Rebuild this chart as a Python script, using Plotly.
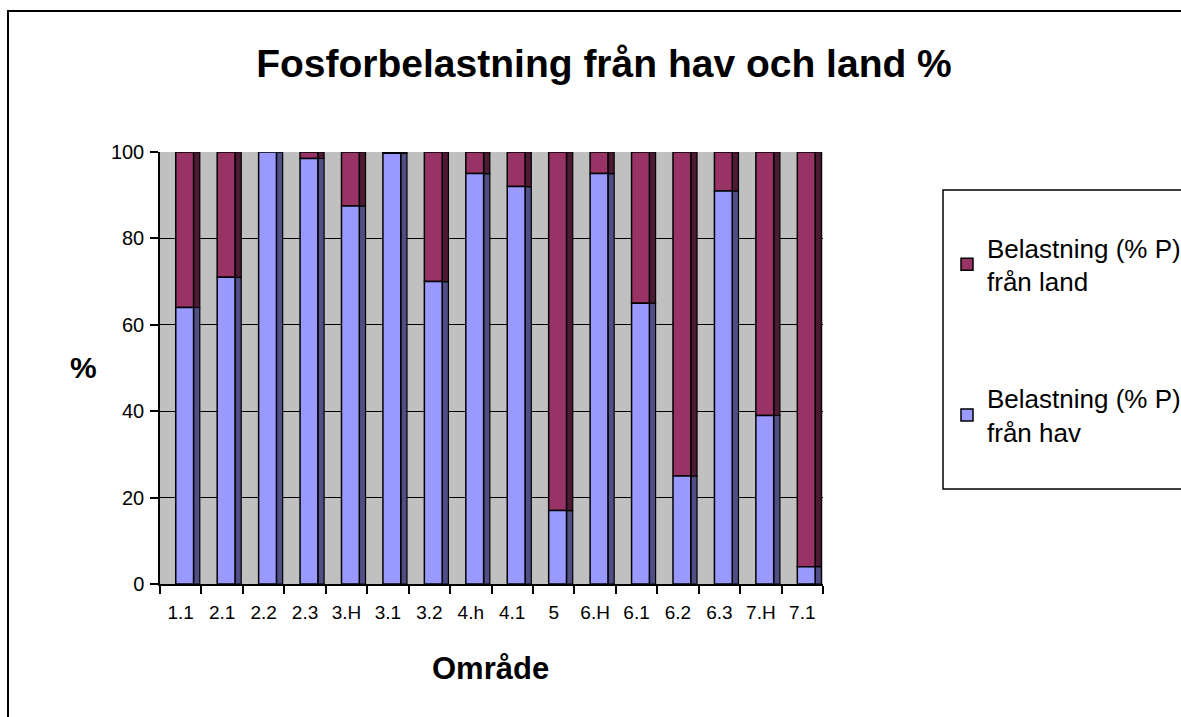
import plotly.graph_objects as go

categories = ["1.1", "2.1", "2.2", "2.3", "3.H", "3.1", "3.2", "4.h", "4.1", "5",
              "6.H", "6.1", "6.2", "6.3", "7.H", "7.1"]
fran_hav = [64, 71, 100, 98.5, 87.5, 99.7, 70, 95, 92, 17, 95, 65, 25, 91, 39, 4]
fran_land = [round(100 - v, 1) for v in fran_hav]

name_land = "Belastning (% P)<br>från land"
name_hav = "Belastning (% P)<br>från hav"

W, H = 1181, 717
L, R, T, B = 160, 358, 152, 133
pw, ph = W - L - R, H - T - B


def px(x):
    return (x - L) / pw


def py(y):
    return 1 - (y - T) / ph


fig = go.Figure()
# side faces (pseudo 3D depth)
fig.add_trace(go.Bar(x=categories, y=fran_hav, base=0, width=0.15, offset=0.31,
                     marker=dict(color="#4f4f86", line=dict(color="black", width=1.2)),
                     showlegend=False, hoverinfo="skip"))
fig.add_trace(go.Bar(x=categories, y=fran_land, base=fran_hav, width=0.15, offset=0.31,
                     marker=dict(color="#4d1a33", line=dict(color="black", width=1.2)),
                     showlegend=False, hoverinfo="skip"))
# front faces (land listed first so it leads the legend)
fig.add_trace(go.Bar(x=categories, y=fran_land, base=fran_hav, width=0.43, offset=-0.12,
                     name=name_land, legendgroup="land",
                     marker=dict(color="#993366", line=dict(color="black", width=1.5))))
fig.add_trace(go.Bar(x=categories, y=fran_hav, base=0, width=0.43, offset=-0.12,
                     name=name_hav, legendgroup="hav",
                     marker=dict(color="#9999ff", line=dict(color="black", width=1.5))))

fig.update_layout(
    width=W, height=H,
    barmode="overlay",
    paper_bgcolor="white",
    plot_bgcolor="#c0c0c0",
    margin=dict(l=L, r=R, t=T, b=B, pad=0, autoexpand=False),
    font=dict(family="Liberation Sans, Arial, sans-serif", color="black", size=20),
    title=dict(text="<b>Fosforbelastning från hav och land %</b>",
               font=dict(size=39, color="black"),
               x=px(604), xanchor="center", xref="paper", y=1 - 63 / H, yanchor="middle",
               yref="container"),
    xaxis=dict(type="category", showgrid=False, showline=True, linecolor="black", linewidth=1.5,
               ticks="outside", tickson="boundaries", ticklen=8, tickcolor="black", tickwidth=1.5,
               tickfont=dict(size=19), range=[-0.5, 15.5], ticklabelstandoff=10),
    yaxis=dict(range=[0, 100], dtick=20, showgrid=True, gridcolor="black", gridwidth=1.2,
               showline=True, linecolor="black", linewidth=1.5, ticks="outside", ticklen=8,
               tickcolor="black", tickwidth=1.5, tickfont=dict(size=20), zeroline=False,
               ticklabelstandoff=2),
    legend=dict(x=px(947), y=py(224), xanchor="left", yanchor="top",
                traceorder="grouped", borderwidth=0, bgcolor="rgba(0,0,0,0)",
                font=dict(size=26), tracegroupgap=80, itemwidth=30),
    showlegend=True,
    annotations=[
        dict(text="<b>%</b>", x=px(83), y=py(367), xref="paper", yref="paper",
             showarrow=False, font=dict(size=30), xanchor="center", yanchor="middle"),
        dict(text="<b>Område</b>", x=px(490), y=py(668), xref="paper", yref="paper",
             showarrow=False, font=dict(size=31), xanchor="center", yanchor="middle"),
    ],
    shapes=[
        dict(type="rect", xref="paper", yref="paper",
             x0=px(8), x1=px(1200), y0=py(740), y1=py(11),
             line=dict(color="black", width=2), fillcolor="rgba(0,0,0,0)", layer="below"),
        dict(type="rect", xref="paper", yref="paper",
             x0=px(943), x1=px(1200), y0=py(489), y1=py(190),
             line=dict(color="black", width=1.5), fillcolor="white", layer="below"),
    ],
)

fig.write_html("out.html", config={"displayModeBar": False},
               post_script="document.body.style.margin='0';")
